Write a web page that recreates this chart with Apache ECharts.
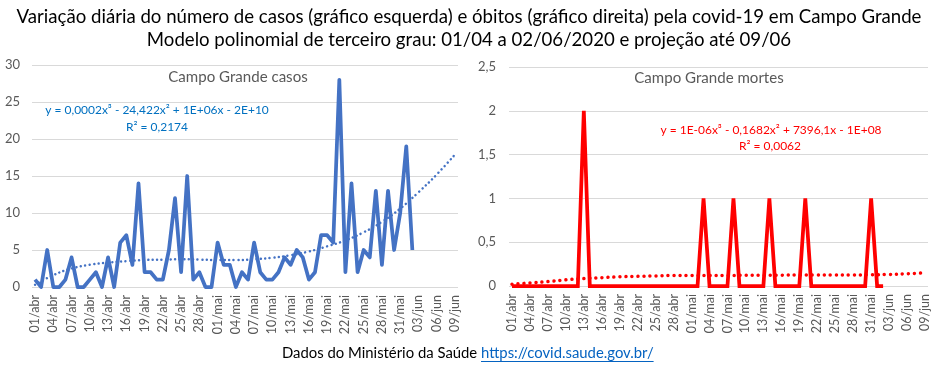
<!DOCTYPE html>
<html><head><meta charset="utf-8">
<script src="https://cdn.jsdelivr.net/npm/echarts@6/dist/echarts.min.js"></script>
<style>html,body{margin:0;padding:0;background:#fff}#c{width:939px;height:369px}</style>
</head><body><div id="c"></div><script>
const categories = [
 '01/abr','02/abr','03/abr','04/abr','05/abr','06/abr','07/abr','08/abr','09/abr','10/abr',
 '11/abr','12/abr','13/abr','14/abr','15/abr','16/abr','17/abr','18/abr','19/abr','20/abr',
 '21/abr','22/abr','23/abr','24/abr','25/abr','26/abr','27/abr','28/abr','29/abr','30/abr',
 '01/mai','02/mai','03/mai','04/mai','05/mai','06/mai','07/mai','08/mai','09/mai','10/mai',
 '11/mai','12/mai','13/mai','14/mai','15/mai','16/mai','17/mai','18/mai','19/mai','20/mai',
 '21/mai','22/mai','23/mai','24/mai','25/mai','26/mai','27/mai','28/mai','29/mai','30/mai',
 '31/mai','01/jun','02/jun','03/jun','04/jun','05/jun','06/jun','07/jun','08/jun','09/jun'];

// Daily new cases, 01/abr .. 02/jun
const casos = [1,0,5,0,0,1,4,0,0,1, 2,0,4,0,6,7,3,14,2,2, 1,1,5,12,2,15,1,2,0,0,
  6,3,3,0,2,1,6,2,1,1, 2,4,3,5,4,1,2,7,7,6, 28,2,14,2,5,4,13,3,13,5, 10,19,5];
// Daily new deaths, 01/abr .. 02/jun
const obitos = [0,0,0,0,0,0,0,0,0,0, 0,0,2,0,0,0,0,0,0,0, 0,0,0,0,0,0,0,0,0,0,
  0,0,1,0,0,0,0,1,0,0, 0,0,0,1,0,0,0,0,0,1, 0,0,0,0,0,0,0,0,0,0, 1,0,0];

// Polynomial trend lines (every 3rd day, 01/abr .. 09/jun)
const trendDays = [0,3,6,9,12,15,18,21,24,27,30,33,36,39,42,45,48,51,54,57,60,63,66,69];
const casosTrendVals = [0.3,1.6,2.5,3.0,3.3,3.5,3.65,3.7,3.75,3.7,3.65,3.65,3.75,3.95,4.3,4.8,5.5,6.3,7.4,8.8,10.6,12.8,15.2,17.9];
const obitosTrendVals = [0.02,0.035,0.05,0.07,0.085,0.095,0.105,0.11,0.115,0.12,0.12,0.12,0.12,0.122,0.123,0.124,0.125,0.125,0.125,0.126,0.128,0.132,0.14,0.15];

const titleLines = ['Variação diária do número de casos (gráfico esquerda) e óbitos (gráfico direita) pela covid-19 em Campo Grande',
  'Modelo polinomial de terceiro grau: 01/04 a 02/06/2020 e projeção até 09/06'];
const leftTitle = 'Campo Grande casos';
const rightTitle = 'Campo Grande mortes';
const leftEq = ['y = 0,0002x³ - 24,422x² + 1E+06x - 2E+10', 'R² = 0,2174'];
const rightEq = ['y = 1E-06x³ - 0,1682x² + 7396,1x - 1E+08', 'R² = 0,0062'];
const footerText = 'Dados do Ministério da Saúde ';
const footerLink = 'https://covid.saude.gov.br/';

function sparse(days, vals){ const a = categories.map(()=>null); days.forEach((d,i)=>{a[d]=vals[i];}); return a; }

const FAM = 'Lato, "Liberation Sans", sans-serif';
const mctx = document.createElement('canvas').getContext('2d');
function tw(text, size){ mctx.font = size + 'px ' + FAM; return mctx.measureText(text).width; }
function fit(text, w){ return 100 * w / tw(text, 100); }

const titleSize = fit(titleLines[0], 906);
const footSize = fit(footerText + footerLink, 372);
const footX = 282;
const linkX = footX + tw(footerText, footSize);
const linkW = tw(footerLink, footSize);
const subSize = (fit(leftTitle, 139) + fit(rightTitle, 150)) / 2;
const eqSize = (fit(leftEq[0], 223) + fit(rightEq[0], 222)) / 2;
const px = s => s.toFixed(2) + 'px ' + FAM;

const grey = '#595959';
const chart = echarts.init(document.getElementById('c'), null, {renderer:'canvas'});
const axisLabelX = {rotate: 90, interval: 2, color: grey, fontSize: 12.5, fontFamily: FAM, margin: 8};
chart.setOption({
  animation: false,
  backgroundColor: '#fff',
  grid: [
    {left: 32, top: 65, width: 426, height: 222},
    {left: 509, top: 67, width: 419, height: 219}
  ],
  xAxis: [
    {type:'category', gridIndex:0, data: categories, boundaryGap: true, axisLine:{show:false}, axisTick:{show:false}, axisLabel: axisLabelX},
    {type:'category', gridIndex:1, data: categories, boundaryGap: true, axisLine:{show:false}, axisTick:{show:false}, axisLabel: axisLabelX}
  ],
  yAxis: [
    {type:'value', gridIndex:0, min:0, max:30, interval:5, axisLine:{show:false}, axisTick:{show:false},
     axisLabel:{color:grey, fontSize:13, fontFamily:FAM, margin:12}, splitLine:{lineStyle:{color:'#D9D9D9', width:1}}},
    {type:'value', gridIndex:1, min:0, max:2.5, interval:0.5, axisLine:{show:false}, axisTick:{show:false},
     axisLabel:{color:grey, fontSize:13, fontFamily:FAM, margin:13, formatter: v => String(v).replace('.', ',')},
     splitLine:{lineStyle:{color:'#D9D9D9', width:1}}}
  ],
  series: [
    {type:'line', xAxisIndex:0, yAxisIndex:0, data: sparse(trendDays, casosTrendVals), connectNulls:true, smooth:true,
     showSymbol:false, lineStyle:{color:'#4472C4', width:2.5, type:[0.01,4.5], cap:'round'}, z:2},
    {type:'line', xAxisIndex:0, yAxisIndex:0, data: casos, showSymbol:false,
     lineStyle:{color:'#4472C4', width:3.75, join:'round'}, z:3},
    {type:'line', xAxisIndex:1, yAxisIndex:1, data: sparse(trendDays, obitosTrendVals), connectNulls:true, smooth:true,
     showSymbol:false, lineStyle:{color:'#FF0000', width:3.5, type:[0.01,6], cap:'round'}, z:2},
    {type:'line', xAxisIndex:1, yAxisIndex:1, data: obitos, showSymbol:false,
     lineStyle:{color:'#FF0000', width:3.75, join:'miter'}, z:3}
  ],
  graphic: [
    {type:'text', x:469, y:17, style:{text:titleLines[0], font: px(titleSize), fill:'#000', textAlign:'center', textVerticalAlign:'middle'}},
    {type:'text', x:469, y:40, style:{text:titleLines[1], font: px(titleSize), fill:'#000', textAlign:'center', textVerticalAlign:'middle'}},
    {type:'text', x:238, y:77, style:{text:leftTitle, font: px(subSize), fill:grey, textAlign:'center', textVerticalAlign:'middle'}},
    {type:'text', x:709, y:78, style:{text:rightTitle, font: px(subSize), fill:grey, textAlign:'center', textVerticalAlign:'middle'}},
    {type:'text', x:157, y:110, style:{text:leftEq[0], font: px(eqSize), fill:'#0070C0', textAlign:'center', textVerticalAlign:'middle'}},
    {type:'text', x:157, y:127, style:{text:leftEq[1], font: px(eqSize), fill:'#0070C0', textAlign:'center', textVerticalAlign:'middle'}},
    {type:'text', x:771, y:130, style:{text:rightEq[0], font: px(eqSize), fill:'#FF0000', textAlign:'center', textVerticalAlign:'middle'}},
    {type:'text', x:770, y:146, style:{text:rightEq[1], font: px(eqSize), fill:'#FF0000', textAlign:'center', textVerticalAlign:'middle'}},
    {type:'text', x:footX, y:353, style:{text:footerText, font: px(footSize), fill:'#000', textAlign:'left', textVerticalAlign:'middle'}},
    {type:'text', x:linkX, y:353, style:{text:footerLink, font: px(footSize), fill:'#0563C1', textAlign:'left', textVerticalAlign:'middle'}},
    {type:'line', shape:{x1:linkX, y1:361.5, x2:linkX+linkW, y2:361.5}, style:{stroke:'#0563C1', lineWidth:1}}
  ]
});
</script></body></html>
